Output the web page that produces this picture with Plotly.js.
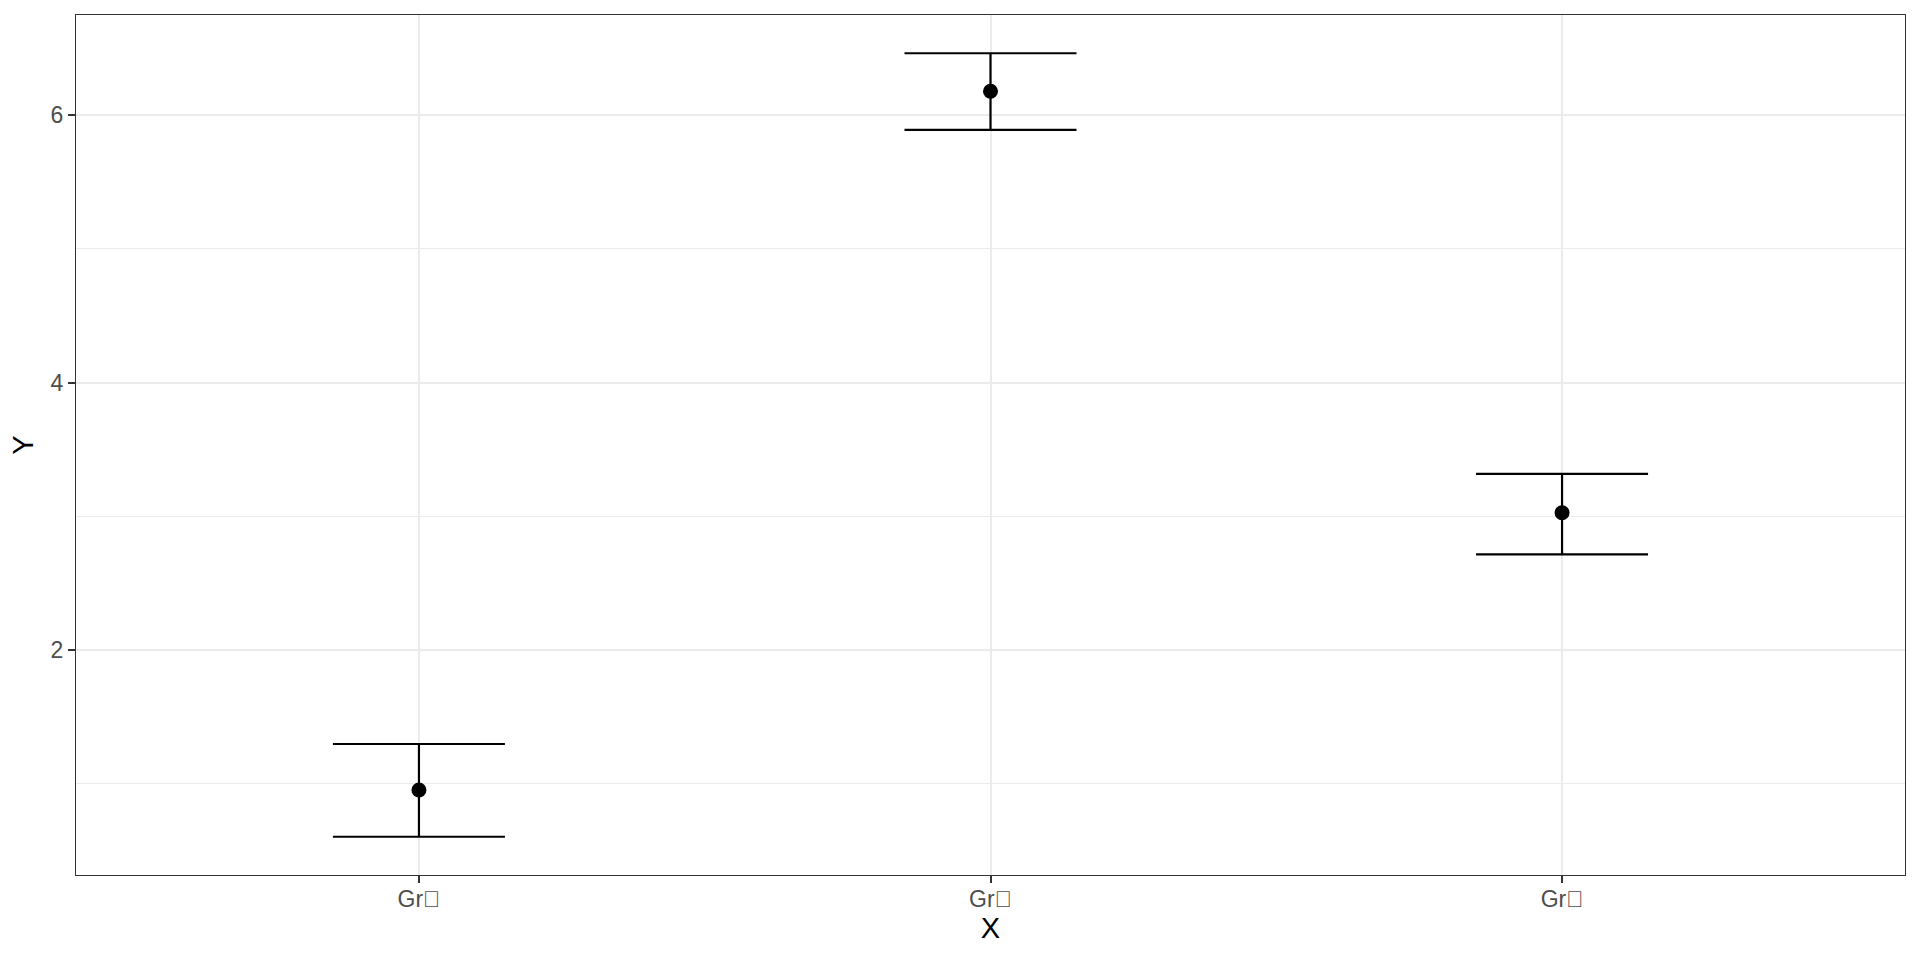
<!DOCTYPE html>
<html>
<head>
<meta charset="utf-8">
<script src="https://cdn.plot.ly/plotly-3.0.1.min.js"></script>
<style>html,body{margin:0;padding:0;background:#fff;}#chart{width:1920px;height:960px;}</style>
</head>
<body>
<div id="chart"></div>
<script>
// Data
const categories = ["Gr\uE000", "Gr\uE001", "Gr\uE002"];
const means = [0.953, 6.18, 3.027];
const upper = [1.297, 6.464, 3.317];
const lower = [0.603, 5.89, 2.716];
const yTickVals = [2, 4, 6];
const yTickText = ["2", "4", "6"];

const errPlus = means.map((m, i) => upper[i] - m);
const errMinus = means.map((m, i) => m - lower[i]);

const trace = {
  type: "scatter",
  mode: "markers",
  x: categories,
  y: means,
  marker: {color: "#000000", size: 15},
  error_y: {
    type: "data",
    symmetric: false,
    array: errPlus,
    arrayminus: errMinus,
    color: "#000000",
    thickness: 2.2,
    width: 86
  },
  hoverinfo: "skip"
};

const layout = {
  width: 1920,
  height: 960,
  paper_bgcolor: "#ffffff",
  plot_bgcolor: "#ffffff",
  showlegend: false,
  margin: {l: 76, r: 15, t: 15, b: 85},
  font: {family: "Liberation Sans, Arial, sans-serif", color: "#4D4D4D"},
  xaxis: {
    type: "category",
    range: [-0.6, 2.6],
    showgrid: true,
    gridcolor: "#EBEBEB",
    gridwidth: 2,
    zeroline: false,
    showline: true,
    linecolor: "#333333",
    linewidth: 1.2,
    mirror: true,
    ticks: "outside",
    ticklen: 7,
    tickwidth: 2,
    tickcolor: "#333333",
    ticklabelstandoff: -4,
    tickfont: {size: 23, color: "#4D4D4D"},
    title: {text: "X", font: {size: 29, color: "#000000"}, standoff: 0}
  },
  yaxis: {
    range: [0.317, 6.75],
    tickvals: yTickVals,
    ticktext: yTickText,
    showgrid: true,
    gridcolor: "#EBEBEB",
    gridwidth: 2,
    zeroline: false,
    showline: true,
    linecolor: "#333333",
    linewidth: 1.2,
    mirror: true,
    ticks: "outside",
    ticklen: 7,
    tickwidth: 2,
    tickcolor: "#333333",
    tickfont: {size: 23, color: "#4D4D4D"},
    minor: {dtick: 1, tick0: 1, showgrid: true, gridcolor: "#EBEBEB", gridwidth: 1, ticks: ""},
    title: {text: "Y", font: {size: 29, color: "#000000"}, standoff: 8}
  }
};

Plotly.newPlot("chart", [trace], layout, {staticPlot: true, displayModeBar: false});
</script>
</body>
</html>
